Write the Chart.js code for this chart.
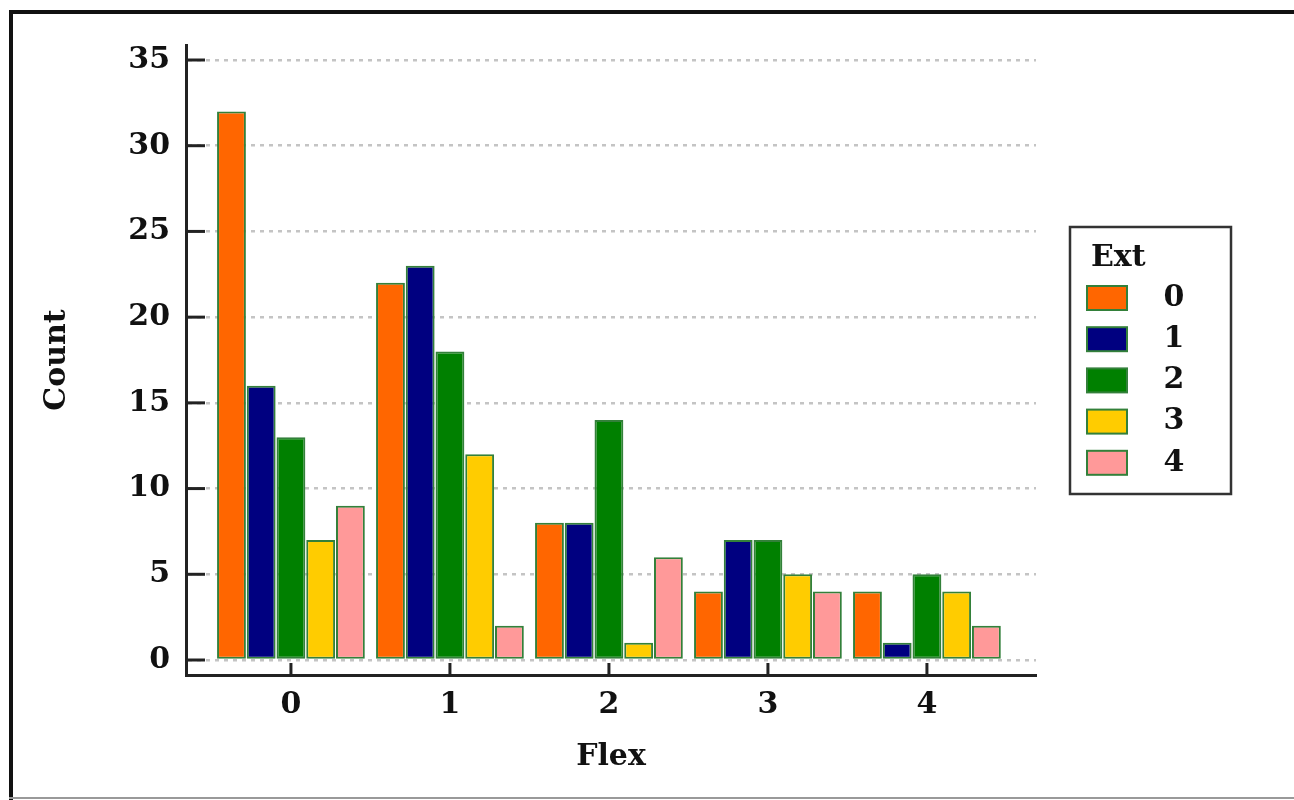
<!DOCTYPE html>
<html>
<head>
<meta charset="utf-8">
<script src="https://cdn.jsdelivr.net/npm/chart.js"></script>
<style>
  body { margin: 0; background: #fff; }
  #wrap { width: 1294px; height: 800px; }
</style>
</head>
<body>
<div id="wrap"><canvas id="chart" width="1294" height="800"></canvas></div>
<script>
// data
const flexValues = [0, 1, 2, 3, 4];
const extLabels = ["0", "1", "2", "3", "4"];
const ext0 = [32, 22, 8, 4, 4];
const ext1 = [16, 23, 8, 7, 1];
const ext2 = [13, 18, 14, 7, 5];
const ext3 = [7, 12, 1, 5, 4];
const ext4 = [9, 2, 6, 4, 2];
const yTicks = [0, 5, 10, 15, 20, 25, 30, 35];

const colors = ["#FF6600", "#000080", "#008000", "#FFCC00", "#FF9999"];
const series = [ext0, ext1, ext2, ext3, ext4];
const FONT = "'DejaVu Serif', 'Liberation Serif', serif";

const datasets = series.map((vals, i) => ({
  label: extLabels[i],
  data: flexValues.map((f, j) => ({ x: f, y: vals[j] })),
  backgroundColor: colors[i],
  borderColor: "#33803a",
  borderWidth: 2,
  borderSkipped: false,
  barPercentage: 0.97,
  categoryPercentage: 0.935
}));

// outer frame, inward tick marks and the boxed legend
const decor = {
  id: "decor",
  beforeDraw(chart) {
    const c = chart.ctx;
    c.save();
    c.fillStyle = "#fff";
    c.fillRect(0, 0, chart.width, chart.height);
    c.strokeStyle = "#111";
    c.lineWidth = 4;
    c.beginPath();
    c.moveTo(11, 800);
    c.lineTo(11, 12);
    c.lineTo(1294, 12);
    c.stroke();
    c.strokeStyle = "#999";
    c.lineWidth = 2;
    c.beginPath();
    c.moveTo(9, 798);
    c.lineTo(1294, 798);
    c.stroke();
    c.restore();
  },
  afterDraw(chart) {
    const c = chart.ctx;
    const xs = chart.scales.x, ys = chart.scales.y;
    const area = chart.chartArea;
    c.save();
    c.strokeStyle = "#222";
    c.lineWidth = 3;
    ys.ticks.forEach(t => {
      const y = ys.getPixelForValue(t.value);
      c.beginPath();
      c.moveTo(area.left, y);
      c.lineTo(area.left + 19, y);
      c.stroke();
    });
    xs.ticks.forEach(t => {
      const x = xs.getPixelForValue(t.value);
      c.beginPath();
      c.moveTo(x, area.bottom);
      c.lineTo(x, area.bottom - 12);
      c.stroke();
    });

    // legend
    const bx = 1070, by = 227, bw = 161, bh = 267;
    c.strokeStyle = "#333";
    c.lineWidth = 2.5;
    c.strokeRect(bx, by, bw, bh);
    c.fillStyle = "#111";
    c.font = "bold 30px " + FONT;
    c.textBaseline = "middle";
    c.textAlign = "left";
    c.fillText("Ext", 1091, 258);
    chart.data.datasets.forEach((ds, i) => {
      const cy = 298 + i * 41.2;
      c.fillStyle = ds.backgroundColor;
      c.fillRect(1087, cy - 12, 40, 24);
      c.strokeStyle = ds.borderColor;
      c.lineWidth = 2;
      c.strokeRect(1087, cy - 12, 40, 24);
      c.fillStyle = "#111";
      c.textAlign = "center";
      c.fillText(ds.label, 1174, cy);
    });
    c.restore();
  }
};

new Chart(document.getElementById("chart"), {
  type: "bar",
  data: { datasets },
  options: {
    responsive: false,
    animation: false,
    layout: { padding: { top: 45, right: 258, left: 0, bottom: 0 } },
    plugins: { legend: { display: false }, tooltip: { enabled: false } },
    scales: {
      x: {
        type: "linear",
        offset: false,
        min: -0.66,
        max: 4.686,
        afterBuildTicks: s => { s.ticks = flexValues.map(v => ({ value: v })); },
        afterFit: s => { s.height = 125; },
        grid: { display: false, drawTicks: false },
        border: { display: true, color: "#222", width: 3 },
        ticks: {
          padding: 12,
          color: "#111",
          font: { family: FONT, size: 30, weight: "bold" },
          maxRotation: 0,
          autoSkip: false
        },
        title: {
          display: true,
          text: "Flex",
          color: "#111",
          font: { family: FONT, size: 30, weight: "bold" },
          padding: { top: 0, bottom: 25 }
        }
      },
      y: {
        min: -0.875,
        max: 35.875,
        afterBuildTicks: s => { s.ticks = yTicks.map(v => ({ value: v })); },
        afterFit: s => { s.width = 186; },
        grid: {
          color: "#c4c4c4",
          lineWidth: 2.5,
          drawTicks: false
        },
        border: { display: true, color: "#222", width: 3, dash: [4, 5] },
        ticks: {
          padding: 16,
          color: "#111",
          font: { family: FONT, size: 30, weight: "bold" }
        },
        title: {
          display: true,
          text: "Count",
          color: "#111",
          font: { family: FONT, size: 30, weight: "bold" },
          padding: { top: 39, bottom: 0 }
        }
      }
    }
  },
  plugins: [decor]
});
</script>
</body>
</html>
